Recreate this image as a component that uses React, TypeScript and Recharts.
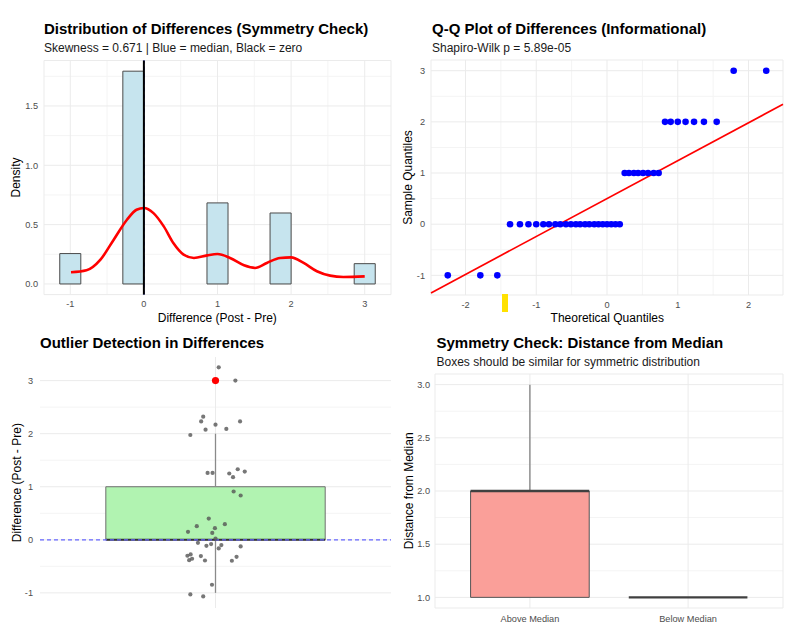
import React from 'react';
import { ComposedChart, XAxis, YAxis, CartesianGrid, ReferenceArea, ReferenceLine, Line, Scatter } from 'recharts';

const FONT = '"Liberation Sans", Arial, sans-serif';

// histogram of differences (density scale)
const binStart = [-1.143, -0.286, 0.857, 1.714, 2.857];
const binEnd = [-0.857, 0, 1.143, 2.0, 3.143];
const binDensity = [0.256, 1.793, 0.683, 0.598, 0.171];
const densityX = [-0.99, -0.78, -0.59, -0.41, -0.23, -0.1, 0, 0.13, 0.27, 0.4, 0.54, 0.68, 0.86, 1.0, 1.17, 1.36, 1.51, 1.67, 1.85, 2.0, 2.17, 2.35, 2.53, 2.71, 3.0];
const densityY = [0.098, 0.115, 0.205, 0.373, 0.541, 0.625, 0.64, 0.597, 0.485, 0.345, 0.247, 0.219, 0.241, 0.252, 0.219, 0.157, 0.135, 0.177, 0.219, 0.224, 0.177, 0.107, 0.07, 0.059, 0.064];
const medianDiff = 0;
const histTicksX = [-1, 0, 1, 2, 3];
const histTicksY = [0, 0.5, 1, 1.5];

// Q-Q plot
const qqTheoretical = [-2.25, -1.79, -1.55, -1.37, -1.23, -1.11, -1.0, -0.9, -0.82, -0.73, -0.66, -0.58, -0.51, -0.44, -0.38, -0.31, -0.25, -0.18, -0.12, -0.06, 0, 0.06, 0.12, 0.18, 0.25, 0.31, 0.38, 0.44, 0.51, 0.58, 0.66, 0.73, 0.82, 0.9, 1.0, 1.11, 1.23, 1.37, 1.55, 1.79, 2.25];
const qqSample = [-1, -1, -1, 0, 0, 0, 0, 0, 0, 0, 0, 0, 0, 0, 0, 0, 0, 0, 0, 0, 0, 0, 0, 0, 1, 1, 1, 1, 1, 1, 1, 1, 2, 2, 2, 2, 2, 2, 2, 3, 3];
const qqIntercept = 0.5;
const qqSlope = 0.741;
const qqTicksX = [-2, -1, 0, 1, 2];
const qqTicksY = [-1, 0, 1, 2, 3];

// outlier boxplot with jittered points
const jitterX = [1.011, 1.068, 0.958, 0.951, 1.084, 1.0, 0.966, 1.037, 0.914, 0.973, 0.99, 1.047, 1.06, 1.076, 1.1, 1.062, 1.086, 0.977, 0.936, 1.032, 0.906, 0.989, 0.998, 1.0, 0.94, 0.969, 0.985, 1.011, 1.02, 1.086, 0.904, 0.915, 0.92, 0.91, 0.95, 0.964, 1.056, 1.072, 0.988, 0.914, 0.958];
const jitterY = [3.25, 3.0, 2.32, 2.23, 2.23, 2.17, 2.075, 2.09, 1.975, 1.26, 1.26, 1.25, 1.18, 1.33, 1.285, 0.91, 0.835, 0.4, 0.257, 0.295, 0.15, 0.13, 0.22, 0.025, -0.056, -0.113, -0.081, -0.163, -0.1, -0.125, -0.3, -0.275, -0.357, -0.383, -0.307, -0.39, -0.395, -0.32, -0.847, -1.03, -1.067];
const outlierValues = [3];
const diffBox = { low: -1, q1: 0, median: 0, q3: 1, high: 2 };
const outTicksY = [-1, 0, 1, 2, 3];

// distance from median boxes
const symCategories = ['Above Median', 'Below Median'];
const symLow = [1, 1];
const symQ1 = [1, 1];
const symMedian = [2, 1];
const symQ3 = [2, 1];
const symHigh = [3, 1];
const symFill = ['#fa9f99', '#66d9dc'];
const symTicksY = [1, 1.5, 2, 2.5, 3];

const tickStyle = { fontSize: 9.2, fill: '#4d4d4d', fontFamily: FONT };
const GRID = '#ebebeb';
const MINOR = '#f4f4f4';

const axisCommon = { tickLine: false, axisLine: false, tickSize: 0, allowDataOverflow: true, interval: 0 as const };

function HistPanel() {
  const curve = densityX.map((x, i) => ({ x, y: densityY[i] }));
  return (
    <ComposedChart width={400} height={320} margin={{ top: 60.5, right: 9, bottom: 5.4, left: 14 }}>
      <CartesianGrid stroke={MINOR} verticalValues={[-0.5, 0.5, 1.5, 2.5]} horizontalValues={[0.25, 0.75, 1.25, 1.75]} />
      <CartesianGrid stroke={GRID} />
      <XAxis type="number" dataKey="x" domain={[-1.357, 3.357]} ticks={histTicksX} height={20} tickMargin={6} tick={tickStyle} {...axisCommon} />
      <YAxis type="number" dataKey="y" domain={[-0.0897, 1.883]} ticks={histTicksY} width={30} tickMargin={6} tick={tickStyle} tickFormatter={(v: number) => v.toFixed(1)} {...axisCommon} />
      {binDensity.map((d, i) => (
        <ReferenceArea key={i} x1={binStart[i]} x2={binEnd[i]} y1={0} y2={d} fill="#c6e4ee" fillOpacity={1} stroke="#4a4a4a" strokeWidth={1} />
      ))}
      <Line data={curve} dataKey="y" type="monotone" stroke="#ff0000" strokeWidth={2.6} dot={false} isAnimationActive={false} />
      <ReferenceLine x={medianDiff} stroke="#0000ff" strokeDasharray="4 3" strokeWidth={1.2} />
      <ReferenceLine x={0} stroke="#000000" strokeWidth={2} />
    </ComposedChart>
  );
}

function QQPanel() {
  const pts = qqTheoretical.map((x, i) => ({ x, y: qqSample[i] }));
  const xMin = -2.487;
  const xMax = 2.487;
  return (
    <ComposedChart width={405} height={320} margin={{ top: 60, right: 22, bottom: 5, left: 11 }}>
      <CartesianGrid stroke={MINOR} verticalValues={[-1.5, -0.5, 0.5, 1.5]} horizontalValues={[-0.5, 0.5, 1.5, 2.5]} />
      <CartesianGrid stroke={GRID} />
      <XAxis type="number" dataKey="x" domain={[xMin, xMax]} ticks={qqTicksX} height={20} tickMargin={6} tick={tickStyle} {...axisCommon} />
      <YAxis type="number" dataKey="y" domain={[-1.384, 3.209]} ticks={qqTicksY} width={20} tickMargin={6} tick={tickStyle} {...axisCommon} />
      <Scatter
        data={pts}
        dataKey="y"
        isAnimationActive={false}
        shape={(p: any) => <circle cx={p.cx} cy={p.cy} r={3.3} fill="#0000ff" />}
      />
      <ReferenceLine
        segment={[
          { x: xMin, y: qqIntercept + qqSlope * xMin },
          { x: xMax, y: qqIntercept + qqSlope * xMax },
        ]}
        stroke="#ff0000"
        strokeWidth={1.7}
      />
    </ComposedChart>
  );
}

function OutlierPanel() {
  const pts = jitterX.map((x, i) => ({ x, y: jitterY[i] }));
  const outs = outlierValues.map((y) => ({ x: 1, y }));
  return (
    <ComposedChart width={400} height={317} margin={{ top: 37, right: 9, bottom: 29, left: 10 }}>
      <CartesianGrid stroke={MINOR} vertical={false} horizontalValues={[-0.5, 0.5, 1.5, 2.5]} />
      <CartesianGrid stroke={GRID} horizontalValues={outTicksY} verticalValues={[1]} />
      <XAxis type="number" dataKey="x" domain={[0.4, 1.6]} hide {...axisCommon} />
      <YAxis type="number" dataKey="y" domain={[-1.285, 3.445]} ticks={outTicksY} width={30} tickMargin={7} tick={tickStyle} {...axisCommon} />
      <ReferenceLine segment={[{ x: 1, y: diffBox.q3 }, { x: 1, y: diffBox.high }]} stroke="#8a8a8a" strokeWidth={1.3} />
      <ReferenceLine segment={[{ x: 1, y: diffBox.q1 }, { x: 1, y: diffBox.low }]} stroke="#8a8a8a" strokeWidth={1.3} />
      <ReferenceArea x1={0.625} x2={1.375} y1={diffBox.q1} y2={diffBox.q3} fill="#b1f3b1" fillOpacity={1} stroke="#6e6e6e" strokeWidth={1} />
      <ReferenceLine segment={[{ x: 0.625, y: diffBox.median }, { x: 1.375, y: diffBox.median }]} stroke="#333333" strokeWidth={2} />
      <ReferenceLine y={0} stroke="#6666ff" strokeDasharray="4 3" strokeWidth={1.3} />
      <Scatter
        data={pts}
        dataKey="y"
        isAnimationActive={false}
        shape={(p: any) => <circle cx={p.cx} cy={p.cy} r={2.1} fill="#555555" fillOpacity={0.8} />}
      />
      <Scatter
        data={outs}
        dataKey="y"
        isAnimationActive={false}
        shape={(p: any) => <circle cx={p.cx} cy={p.cy} r={3.6} fill="#ff0000" />}
      />
    </ComposedChart>
  );
}

function SymmetryPanel() {
  const rows = symCategories.map((c, i) => ({ x: i + 1, y: symMedian[i] }));
  return (
    <ComposedChart width={405} height={317} data={rows} margin={{ top: 54, right: 22, bottom: 9, left: 5 }}>
      <CartesianGrid stroke={MINOR} vertical={false} horizontalValues={[1.25, 1.75, 2.25, 2.75]} />
      <CartesianGrid stroke={GRID} />
      <XAxis type="number" dataKey="x" domain={[0.4, 2.6]} ticks={[1, 2]} height={20} tickMargin={7} tick={tickStyle} tickFormatter={(v: number) => symCategories[v - 1]} {...axisCommon} />
      <YAxis type="number" dataKey="y" domain={[0.9, 3.1]} ticks={symTicksY} width={30} tickMargin={5} tick={tickStyle} tickFormatter={(v: number) => v.toFixed(1)} {...axisCommon} />
      {symCategories.map((c, i) => (
        <ReferenceLine key={'wh' + c} segment={[{ x: i + 1, y: symQ3[i] }, { x: i + 1, y: symHigh[i] }]} stroke="#777777" strokeWidth={1.2} />
      ))}
      {symCategories.map((c, i) => (
        <ReferenceLine key={'wl' + c} segment={[{ x: i + 1, y: symQ1[i] }, { x: i + 1, y: symLow[i] }]} stroke="#777777" strokeWidth={1.2} />
      ))}
      {symCategories.map((c, i) =>
        symQ3[i] > symQ1[i] ? (
          <ReferenceArea key={'b' + c} x1={i + 0.625} x2={i + 1.375} y1={symQ1[i]} y2={symQ3[i]} fill={symFill[i]} fillOpacity={1} stroke="#555555" strokeWidth={1} />
        ) : null
      )}
      {symCategories.map((c, i) => (
        <ReferenceLine key={'m' + c} segment={[{ x: i + 0.625, y: symMedian[i] }, { x: i + 1.375, y: symMedian[i] }]} stroke="#404040" strokeWidth={2.4} />
      ))}
    </ComposedChart>
  );
}

export default function App() {
  const title = { fontFamily: FONT, fontSize: 15, fontWeight: 700, fill: '#000' };
  const sub = { fontFamily: FONT, fontSize: 12, fill: '#1a1a1a' };
  const axt = { fontFamily: FONT, fontSize: 12, fill: '#000' };
  return (
    <div style={{ position: 'absolute', left: 0, top: 0, width: 805, height: 637, background: '#fff', overflow: 'hidden' }}>
      <div style={{ position: 'absolute', left: 0, top: 0 }}><HistPanel /></div>
      <div style={{ position: 'absolute', left: 400, top: 0 }}><QQPanel /></div>
      <div style={{ position: 'absolute', left: 0, top: 320 }}><OutlierPanel /></div>
      <div style={{ position: 'absolute', left: 400, top: 320 }}><SymmetryPanel /></div>
      <svg width={805} height={637} style={{ position: 'absolute', left: 0, top: 0, pointerEvents: 'none' }}>
        <text x={44} y={34.3} style={title}>Distribution of Differences (Symmetry Check)</text>
        <text x={44} y={52.3} style={sub}>Skewness = 0.671 | Blue = median, Black = zero</text>
        <text x={432} y={34.3} style={title}>Q-Q Plot of Differences (Informational)</text>
        <text x={432} y={52.3} style={sub}>Shapiro-Wilk p = 5.89e-05</text>
        <text x={40} y={347.7} style={title}>Outlier Detection in Differences</text>
        <text x={436.5} y={347.7} style={title}>Symmetry Check: Distance from Median</text>
        <text x={436.5} y={365.7} style={sub}>Boxes should be similar for symmetric distribution</text>

        <text x={217.3} y={322} textAnchor="middle" style={axt}>Difference (Post - Pre)</text>
        <text x={607.3} y={322} textAnchor="middle" style={axt}>Theoretical Quantiles</text>
        <text transform="translate(20,177.5) rotate(-90)" textAnchor="middle" style={axt}>Density</text>
        <text transform="translate(411.5,177.5) rotate(-90)" textAnchor="middle" style={axt}>Sample Quantiles</text>
        <text transform="translate(20.5,482.7) rotate(-90)" textAnchor="middle" style={axt}>Difference (Post - Pre)</text>
        <text transform="translate(413,490.8) rotate(-90)" textAnchor="middle" style={axt}>Distance from Median</text>

        <rect x={502} y={294} width={6} height={18} fill="#ffe100" />
      </svg>
    </div>
  );
}
